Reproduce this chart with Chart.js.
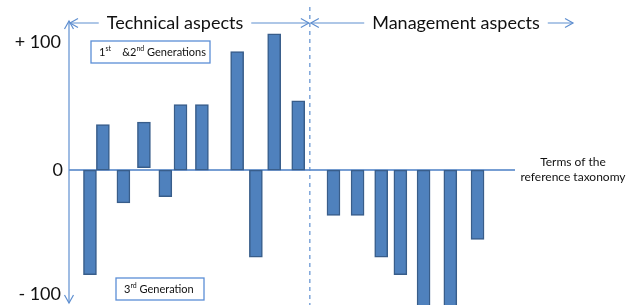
<!DOCTYPE html>
<html>
<head>
<meta charset="utf-8">
<script src="https://cdn.jsdelivr.net/npm/chart.js@4"></script>
<style>
  html, body { margin: 0; padding: 0; background: #fff; }
  canvas { display: block; }
</style>
</head>
<body>
<canvas id="taxonomyChart" width="634" height="305"></canvas>
<script>
// positions of the terms along the taxonomy axis (0..100), values and bar bases
const termPos   = [4.7, 7.6, 12.2, 16.8, 21.6, 25.0, 29.8, 37.7, 41.9, 46.0, 51.4,
                   59.3, 64.7, 70.0, 74.3, 79.5, 85.5, 91.6];
const termValue = [-83, 36, -26, 38, -21, 52, 52, 94, -69, 108, 55,
                   -36, -36, -69, -83, -115, -115, -55];
const termBase  = [0, 0, 0, 2, 0, 0, 0, 0, 0, 0, 0,
                   0, 0, 0, 0, 0, 0, 0];
const divider = 54;          // technical / management split
const yTicks = [100, 0, -100];
const yTickLabels = ['+ 100', '0', '- 100'];

const points = termPos.map((x, i) => ({ x: x, y: [termBase[i], termValue[i]] }));

const lineBlue = '#5f8fd0';
const textFont = 'Lato, "Open Sans", sans-serif';

function arrowHead(ctx, x, y, dir) {
  ctx.beginPath();
  ctx.moveTo(x - dir * 8, y - 4.5);
  ctx.lineTo(x, y);
  ctx.lineTo(x - dir * 8, y + 4.5);
  ctx.stroke();
}

function arrowHeadV(ctx, x, y, dir) {
  ctx.beginPath();
  ctx.moveTo(x - 4.5, y - dir * 8);
  ctx.lineTo(x, y);
  ctx.lineTo(x + 4.5, y - dir * 8);
  ctx.stroke();
}

function superText(ctx, parts, x, y) {
  // parts: [text, isSuper]
  let cx = x;
  parts.forEach(p => {
    ctx.font = p[1] ? '7px ' + textFont : '11px ' + textFont;
    ctx.fillText(p[0], cx, p[1] ? y - 4 : y);
    cx += ctx.measureText(p[0]).width;
  });
}

const overlay = {
  id: 'overlay',
  beforeDatasetsDraw(chart) {
    const ctx = chart.ctx;
    const ys = chart.scales.y;
    const area = chart.chartArea;
    const y0 = ys.getPixelForValue(0);
    ctx.save();
    ctx.strokeStyle = '#4a7ec4';
    ctx.lineWidth = 1.5;
    ctx.beginPath();
    ctx.moveTo(area.left, y0);
    ctx.lineTo(area.right, y0);
    ctx.stroke();
    ctx.restore();
  },
  afterDatasetsDraw(chart) {
    const ctx = chart.ctx;
    const xs = chart.scales.x, ys = chart.scales.y;
    const area = chart.chartArea;
    const left = area.left;
    const xd = xs.getPixelForValue(divider);
    const yTop = 23;
    ctx.save();

    // vertical axis with arrows
    ctx.strokeStyle = lineBlue;
    ctx.lineWidth = 1.2;
    ctx.beginPath();
    ctx.moveTo(left, 21);
    ctx.lineTo(left, 303);
    ctx.stroke();
    arrowHeadV(ctx, left, 21, -1);
    arrowHeadV(ctx, left, 303, 1);

    // dashed divider
    ctx.setLineDash([4, 4]);
    ctx.beginPath();
    ctx.moveTo(xd, 7);
    ctx.lineTo(xd, 305);
    ctx.stroke();
    ctx.setLineDash([]);

    // section headings with arrows
    ctx.fillStyle = '#111';
    ctx.font = '18px ' + textFont;
    ctx.textBaseline = 'middle';
    ctx.textAlign = 'center';
    const techX = 175, mgmtX = 456;
    ctx.fillText('Technical aspects', techX, yTop);
    ctx.fillText('Management aspects', mgmtX, yTop);
    const tw = ctx.measureText('Technical aspects').width / 2 + 8;
    const mw = ctx.measureText('Management aspects').width / 2 + 8;

    ctx.beginPath();
    ctx.moveTo(left + 1, yTop); ctx.lineTo(techX - tw, yTop);
    ctx.moveTo(techX + tw, yTop); ctx.lineTo(xd - 1, yTop);
    ctx.moveTo(xd + 1, yTop); ctx.lineTo(mgmtX - mw, yTop);
    ctx.moveTo(mgmtX + mw, yTop); ctx.lineTo(573, yTop);
    ctx.stroke();
    arrowHead(ctx, left + 1, yTop, -1);
    arrowHead(ctx, xd - 1, yTop, 1);
    arrowHead(ctx, xd + 1, yTop, -1);
    arrowHead(ctx, 573, yTop, 1);

    // y labels
    ctx.font = '18px ' + textFont;
    ctx.textAlign = 'right';
    yTicks.forEach((v, i) => {
      ctx.fillText(yTickLabels[i], i === 1 ? 63 : 61, ys.getPixelForValue(v) + (v === 0 ? 0 : -2));
    });

    // generation boxes
    ctx.strokeStyle = '#5b8ed6';
    ctx.lineWidth = 1.3;
    ctx.fillStyle = '#fff';
    ctx.fillRect(91, 41, 119, 22);
    ctx.strokeRect(91, 41, 119, 22);
    ctx.fillRect(116, 278, 88, 22);
    ctx.strokeRect(116, 278, 88, 22);
    ctx.fillStyle = '#111';
    ctx.textAlign = 'left';
    superText(ctx, [['1', 0], ['st', 1], ['    &2', 0], ['nd', 1], [' Generations', 0]], 99, 52.5);
    superText(ctx, [['3', 0], ['rd', 1], [' Generation', 0]], 124, 289.5);

    // axis caption
    ctx.font = '12px ' + textFont;
    ctx.textAlign = 'center';
    ctx.fillText('Terms of the', 573, 162);
    ctx.fillText('reference taxonomy', 573, 177);
    ctx.restore();
  }
};

new Chart(document.getElementById('taxonomyChart').getContext('2d'), {
  type: 'bar',
  data: {
    datasets: [{
      label: 'Terms',
      data: points,
      backgroundColor: '#4f81bd',
      borderColor: '#385d8a',
      borderWidth: 1.5,
      borderSkipped: false,
      barThickness: 13
    }]
  },
  options: {
    responsive: false,
    animation: false,
    devicePixelRatio: 1,
    layout: { padding: { left: 69, right: 119, top: 15, bottom: 0 } },
    scales: {
      x: { type: 'linear', min: 0, max: 100, offset: false, display: false },
      y: { min: -107, max: 123, display: false }
    },
    plugins: {
      legend: { display: false },
      title: { display: false },
      tooltip: { enabled: false }
    }
  },
  plugins: [overlay]
});
</script>
</body>
</html>
